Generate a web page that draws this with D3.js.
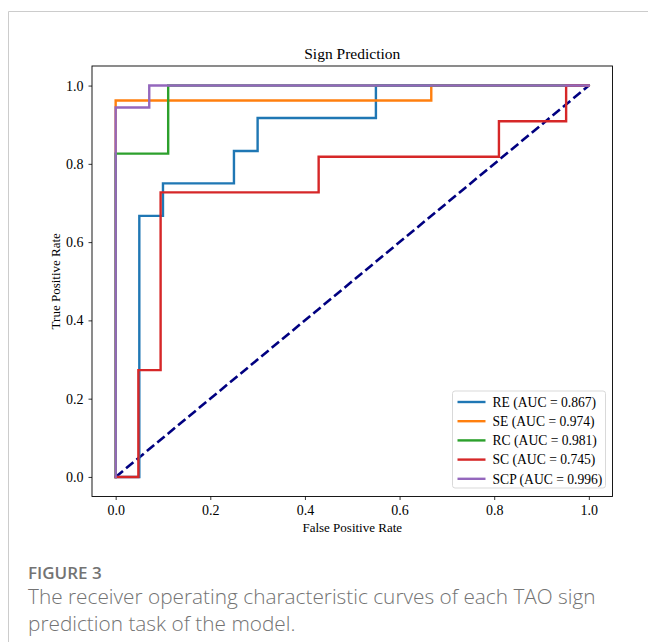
<!DOCTYPE html>
<html>
<head>
<meta charset="utf-8">
<script src="https://cdn.jsdelivr.net/npm/d3@7"></script>
<style>
  body { margin: 0; background: #fff; }
  svg { display: block; }
</style>
</head>
<body>
<div id="chart"></div>
<script>
// ROC curves, one step curve per task
var seriesNames = ["RE", "SE", "RC", "SC", "SCP"];
var seriesAUC = ["0.867", "0.974", "0.981", "0.745", "0.996"];
var seriesColors = ["#1f77b4", "#ff7f0e", "#2ca02c", "#d62728", "#9467bd"];

var fprRE = [0, 0.05, 0.05, 0.10, 0.10, 0.25, 0.25, 0.30, 0.30, 0.55, 0.55, 1];
var tprRE = [0, 0, 0.667, 0.667, 0.75, 0.75, 0.833, 0.833, 0.917, 0.917, 1, 1];

var fprSE = [0, 0, 0.667, 0.667, 1];
var tprSE = [0, 0.962, 0.962, 1, 1];

var fprRC = [0, 0, 0.111, 0.111, 1];
var tprRC = [0, 0.826, 0.826, 1, 1];

var fprSC = [0, 0.048, 0.048, 0.095, 0.095, 0.429, 0.429, 0.81, 0.81, 0.952, 0.952, 1];
var tprSC = [0, 0, 0.273, 0.273, 0.727, 0.727, 0.818, 0.818, 0.909, 0.909, 1, 1];

var fprSCP = [0, 0, 0.071, 0.071, 1];
var tprSCP = [0, 0.944, 0.944, 1, 1];

var tickVals = [0.0, 0.2, 0.4, 0.6, 0.8, 1.0];

var allFpr = [fprRE, fprSE, fprRC, fprSC, fprSCP];
var allTpr = [tprRE, tprSE, tprRC, tprSC, tprSCP];

var W = 648, H = 642;
var margin = {left: 92, top: 66, right: 648 - 612.5, bottom: 642 - 496.5};
var width = W - margin.left - margin.right;
var height = H - margin.top - margin.bottom;
var serif = "'Liberation Serif', 'Times New Roman', serif";

var svg = d3.select("#chart").append("svg")
  .attr("width", W)
  .attr("height", H);

// card border (top + left)
svg.append("line").attr("x1", 8.5).attr("y1", 11.5).attr("x2", W).attr("y2", 11.5)
  .attr("stroke", "#cccccc").attr("stroke-width", 1);
svg.append("line").attr("x1", 8.5).attr("y1", 11.5).attr("x2", 8.5).attr("y2", H)
  .attr("stroke", "#cccccc").attr("stroke-width", 1);

var g = svg.append("g")
  .attr("transform", "translate(" + margin.left + "," + margin.top + ")");

var x = d3.scaleLinear().domain([-0.05, 1.05]).range([0, width]);
var y = d3.scaleLinear().domain([-0.05, 1.05]).range([height, 0]);

var fmt = d3.format(".1f");

var xAxis = g.append("g")
  .attr("transform", "translate(0," + height + ")")
  .call(d3.axisBottom(x).tickValues(tickVals).tickFormat(fmt).tickSize(3.5).tickPadding(5));
var yAxis = g.append("g")
  .call(d3.axisLeft(y).tickValues(tickVals).tickFormat(fmt).tickSize(3.5).tickPadding(5));

[xAxis, yAxis].forEach(function(a) {
  a.attr("font-size", null).attr("font-family", null);
  a.select(".domain").remove();
  a.selectAll("line").attr("stroke", "#000").attr("stroke-width", 0.8);
  a.selectAll("text")
    .style("font-family", serif)
    .style("font-size", "14px")
    .attr("fill", "#000");
});

// diagonal
g.append("line")
  .attr("x1", x(0)).attr("y1", y(0))
  .attr("x2", x(1)).attr("y2", y(1))
  .attr("stroke", "#000080")
  .attr("stroke-width", 2.6)
  .attr("stroke-dasharray", "9.5,4");

var line = d3.line()
  .x(function(d) { return x(d[0]); })
  .y(function(d) { return y(d[1]); });

seriesNames.forEach(function(name, i) {
  var pts = allFpr[i].map(function(f, j) { return [f, allTpr[i][j]]; });
  g.append("path")
    .datum(pts)
    .attr("d", line)
    .attr("fill", "none")
    .attr("stroke", seriesColors[i])
    .attr("stroke-width", 2.4)
    .attr("stroke-linejoin", "miter")
    .attr("stroke-linecap", "square");
});

// frame
g.append("rect")
  .attr("x", 0).attr("y", 0)
  .attr("width", width).attr("height", height)
  .attr("fill", "none")
  .attr("stroke", "#000")
  .attr("stroke-width", 0.9);

// legend
var legW = 153, legH = 97;
var leg = g.append("g")
  .attr("transform", "translate(" + (width - legW - 7) + "," + (height - legH - 8.5) + ")");
leg.append("rect")
  .attr("width", legW).attr("height", legH)
  .attr("rx", 2.5)
  .attr("fill", "#fff").attr("fill-opacity", 0.8)
  .attr("stroke", "#d9d9d9").attr("stroke-width", 1);
seriesNames.forEach(function(name, i) {
  var ry = 11 + i * 19.2;
  leg.append("line")
    .attr("x1", 5).attr("x2", 33)
    .attr("y1", ry).attr("y2", ry)
    .attr("stroke", seriesColors[i])
    .attr("stroke-width", 2.4);
  leg.append("text")
    .attr("x", 40).attr("y", ry + 4.7)
    .style("font-family", serif)
    .style("font-size", "13.6px")
    .text(name + " (AUC = " + seriesAUC[i] + ")");
});

// title and axis labels
svg.append("text")
  .attr("x", margin.left + width / 2).attr("y", 59)
  .attr("text-anchor", "middle")
  .style("font-family", serif)
  .style("font-size", "15.5px")
  .text("Sign Prediction");

svg.append("text")
  .attr("x", margin.left + width / 2).attr("y", 532)
  .attr("text-anchor", "middle")
  .style("font-family", serif)
  .style("font-size", "13px")
  .text("False Positive Rate");

svg.append("text")
  .attr("transform", "translate(60," + (margin.top + height / 2) + ") rotate(-90)")
  .attr("text-anchor", "middle")
  .style("font-family", serif)
  .style("font-size", "13px")
  .text("True Positive Rate");

// caption
svg.append("text")
  .attr("x", 28).attr("y", 579)
  .style("font-family", "'Open Sans', sans-serif")
  .style("font-size", "17px")
  .style("font-weight", 600)
  .attr("fill", "#737373")
  .text("FIGURE 3");
svg.append("text")
  .attr("x", 28).attr("y", 604)
  .style("font-family", "'Open Sans', sans-serif")
  .style("font-size", "20.8px")
  .style("font-weight", 300)
  .attr("fill", "#737373")
  .text("The receiver operating characteristic curves of each TAO sign");
svg.append("text")
  .attr("x", 28).attr("y", 631)
  .style("font-family", "'Open Sans', sans-serif")
  .style("font-size", "20.8px")
  .style("font-weight", 300)
  .attr("fill", "#737373")
  .text("prediction task of the model.");
</script>
</body>
</html>
